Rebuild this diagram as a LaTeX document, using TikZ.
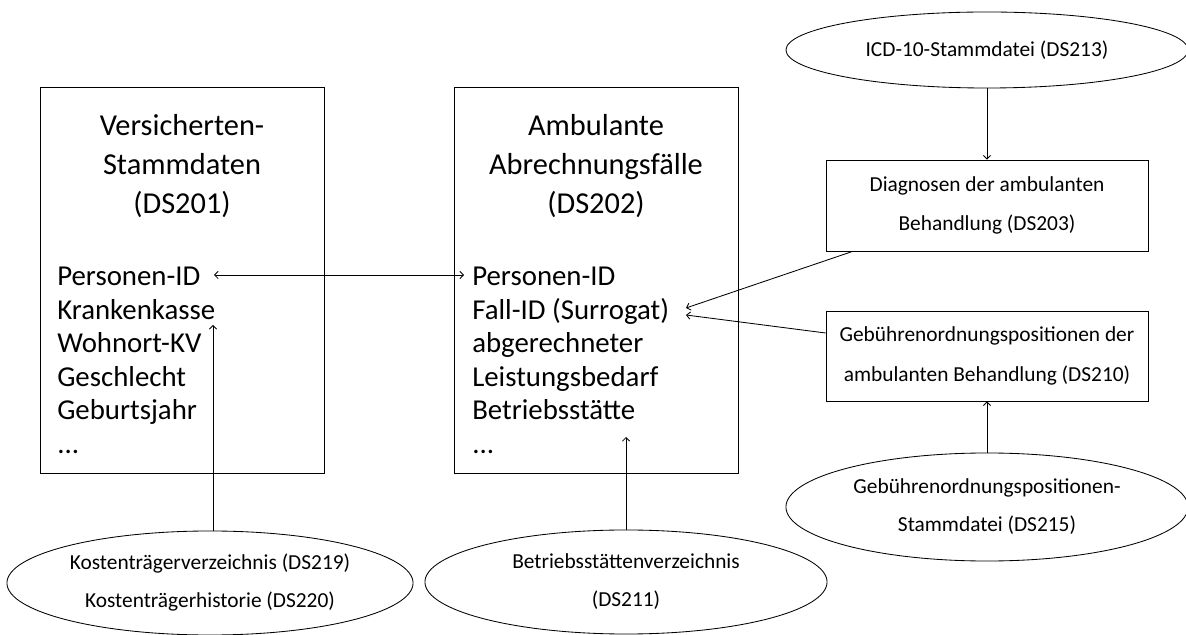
\documentclass[tikz,border=0pt]{standalone}
\usepackage{fontspec}
\setmainfont{Carlito}
\usetikzlibrary{shapes.geometric,arrows.meta}

\tikzset{
  tabelle/.style={draw, line width=0.6pt, minimum width=7.1cm, minimum height=9.65cm, inner sep=0pt},
  titel/.style={align=center, inner sep=0pt, anchor=north, font=\fontsize{21.6}{27.7}\selectfont},
  eintrag/.style={anchor=base west, inner sep=0pt, font=\fontsize{20.5}{24}\selectfont},
  kasten/.style={draw, line width=0.6pt, minimum width=8.05cm, minimum height=2.25cm,
    align=center, inner sep=0pt, font=\fontsize{15.2}{28}\selectfont},
  quelle/.style={draw, ellipse, line width=0.6pt, align=center, inner sep=0pt,
    minimum width=10.05cm, font=\fontsize{15.2}{27}\selectfont},
  spitze/.tip={Straight Barb[length=0.9mm,width=1.8mm]},
  pfeil/.style={line width=0.6pt, -spitze},
  doppelpfeil/.style={line width=0.6pt, spitze-spitze},
}

\begin{document}
\begin{tikzpicture}[x=0.025cm, y=-0.025cm]
  \useasboundingbox (0,0) rectangle (1186,635);

  % Versichertenstammdaten
  \node[tabelle] (vs) at (182,280) {};
  \node[titel] (vstitel) at (182,114) {Versicherten-\\Stammdaten\\(DS201)};
  \node[eintrag] (vs1) at (57,286) {Personen-ID};
  \node[eintrag] (vs2) at (57,319.5) {Krankenkasse};
  \node[eintrag] (vs3) at (57,353) {Wohnort-KV};
  \node[eintrag] (vs4) at (57,386.5) {Geschlecht};
  \node[eintrag] (vs5) at (57,420) {Geburtsjahr};
  \node[eintrag] (vs6) at (57,453.5) {...};

  % Ambulante Abrechnungsfaelle
  \node[tabelle] (af) at (596,280) {};
  \node[titel] (aftitel) at (596,114) {Ambulante\\Abrechnungsfälle\\(DS202)};
  \node[eintrag] (af1) at (472,286) {Personen-ID};
  \node[eintrag] (af2) at (472,319.5) {Fall-ID (Surrogat)};
  \node[eintrag] (af3) at (472,353) {abgerechneter};
  \node[eintrag] (af4) at (472,386.5) {Leistungsbedarf};
  \node[eintrag] (af5) at (472,420) {Betriebsstätte};
  \node[eintrag] (af6) at (472,453.5) {...};

  % Diagnosen und Gebuehrenordnungspositionen
  \node[kasten, minimum height=2.275cm] (diag) at (987,205.5) {Diagnosen der ambulanten\\Behandlung (DS203)};
  \node[kasten] (gop) at (987,356) {Gebührenordnungspositionen der\\ambulanten Behandlung (DS210)};

  % Stammdateien und Verzeichnisse
  \node[quelle, minimum height=1.9cm] (icd) at (987,50) {ICD-10-Stammdatei (DS213)};
  \node[quelle, minimum height=2.7cm] (gopst) at (987,507) {Gebührenordnungspositionen-\\Stammdatei (DS215)};
  \node[quelle, minimum width=10.15cm, minimum height=2.6cm] (kost) at (210,583)
    {Kostenträgerverzeichnis (DS219)\\Kostenträgerhistorie (DS220)};
  \node[quelle, minimum height=2.6cm] (bst) at (626,582) {Betriebsstättenverzeichnis\\(DS211)};

  % Endpunkte der Pfeile
  \coordinate (pidl) at (214,275);
  \coordinate (pidr) at (464,275);
  \coordinate (kkend) at (213,325);
  \coordinate (bstend) at (626,437);
  \coordinate (fallend1) at (686,308);
  \coordinate (fallend2) at (686,315);

  % Verknuepfungen
  \draw[doppelpfeil] (pidl) -- (pidr);
  \draw[pfeil] (kost.north -| kkend) -- (kkend);
  \draw[pfeil] (bst.north) -- (bstend);
  \draw[pfeil] (icd.south) -- (diag.north);
  \draw[pfeil] (gopst.north) -- (gop.south);
  \draw[pfeil] ([xshift=0.675cm]diag.south west) -- (fallend1);
  \draw[pfeil] ([yshift=0.575cm]gop.west) -- (fallend2);
\end{tikzpicture}
\end{document}
